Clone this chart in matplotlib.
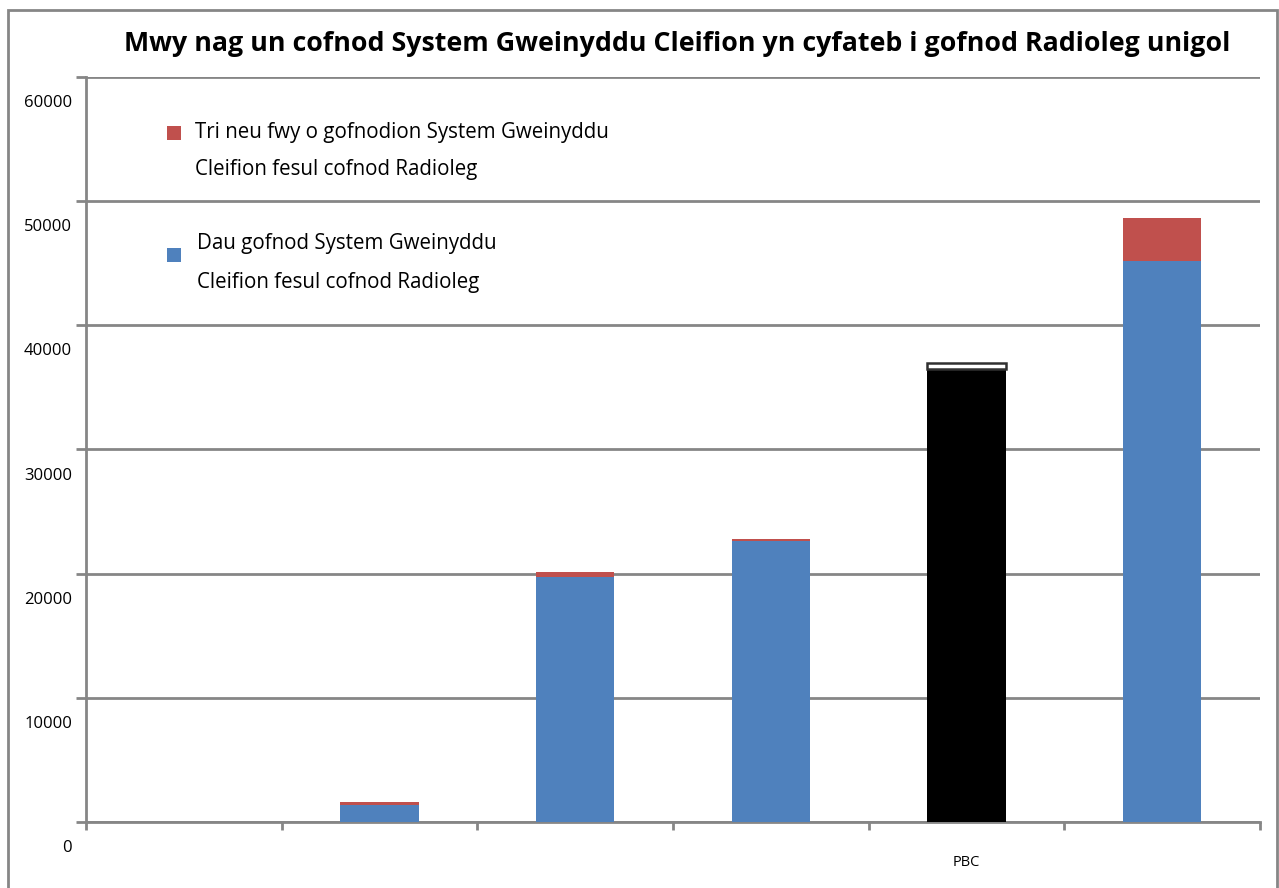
import matplotlib
matplotlib.use("Agg")
import matplotlib.pyplot as plt
from matplotlib.patches import Rectangle
from matplotlib.transforms import ScaledTranslation
import numpy as np

categories = ['', '', '', '', 'PBC', '']
two_records = [0, 1350, 19700, 22600, 36500, 45200]
three_plus = [0, 250, 400, 200, 500, 3450]
yticks = [0, 10000, 20000, 30000, 40000, 50000, 60000]
title = "Mwy nag un cofnod System Gweinyddu Cleifion yn cyfateb i gofnod Radioleg unigol"
label_three = "Tri neu fwy o gofnodion System Gweinyddu\nCleifion fesul cofnod Radioleg"
label_two = "Dau gofnod System Gweinyddu\nCleifion fesul cofnod Radioleg"

BLUE = '#4F81BD'
RED = '#C0504D'
GRID = '#868686'

plt.rcParams['font.family'] = ['Open Sans', 'DejaVu Sans']

W, H = 1279, 888
fig = plt.figure(figsize=(W/100, H/100), dpi=100)
ax = fig.add_axes([86/W, (H-822)/H, (1260-86)/W, (822-77)/H])

x = np.arange(len(categories))
bottom_colors = [BLUE if c != 'PBC' else 'black' for c in categories]
top_colors = [RED if c != 'PBC' else 'white' for c in categories]
top_edges = ['none' if c != 'PBC' else '#303030' for c in categories]

ax.bar(x, two_records, width=0.4, color=bottom_colors, zorder=3)
for i in range(len(x)):
    ax.bar(x[i], three_plus[i], bottom=two_records[i], width=0.4,
           color=top_colors[i], edgecolor=top_edges[i], linewidth=1.8, zorder=3)

ax.set_xlim(-0.5, len(categories) - 0.5)
ax.set_ylim(0, 60000)
ax.set_yticks(yticks)
ax.set_yticklabels([str(v) for v in yticks], fontsize=12)
ax.yaxis.grid(True, color=GRID, linewidth=2, zorder=0)
ax.set_axisbelow(True)

# x ticks at category boundaries, labels at centers
ax.set_xticks(np.arange(-0.5, len(categories), 1.0))
ax.set_xticklabels([])
ax.set_xticks(x, minor=True)
ax.set_xticklabels(categories, minor=True, fontsize=10.5)
ax.tick_params(axis='x', which='minor', length=0, pad=24)
ax.tick_params(axis='x', which='major', length=6, width=2, color=GRID, direction='out')
ax.tick_params(axis='y', length=7, width=2, color=GRID, pad=3)

for s in ['right', 'top']:
    ax.spines[s].set_visible(False)
for s in ['left', 'bottom']:
    ax.spines[s].set_color(GRID)
    ax.spines[s].set_linewidth(2)

off = ScaledTranslation(0, -24/100, fig.dpi_scale_trans)
for lab in ax.get_yticklabels():
    lab.set_transform(lab.get_transform() + off)

fig.text(677/W, 1 - 44/H, title, ha='center', va='center', fontsize=19.3, fontweight='bold')

# legend
fig.patches.append(Rectangle((167/W, 1 - 140/H), 14/W, 14/H, transform=fig.transFigure,
                             facecolor=RED, edgecolor='none'))
fig.text(195/W, 1 - 151/H, label_three, ha='left', va='center', fontsize=14.8, linespacing=2.0)
fig.patches.append(Rectangle((167/W, 1 - 262/H), 14/W, 14/H, transform=fig.transFigure,
                             facecolor=BLUE, edgecolor='none'))
fig.text(197/W, 1 - 263/H, label_two, ha='left', va='center', fontsize=14.8, linespacing=2.15)

# outer frame
fig.patches.append(Rectangle((8/W, -0.05), (1277-8)/W, (H-10)/H + 0.05, transform=fig.transFigure,
                             facecolor='none', edgecolor=GRID, linewidth=2))

fig.savefig('out.png', dpi=100)
